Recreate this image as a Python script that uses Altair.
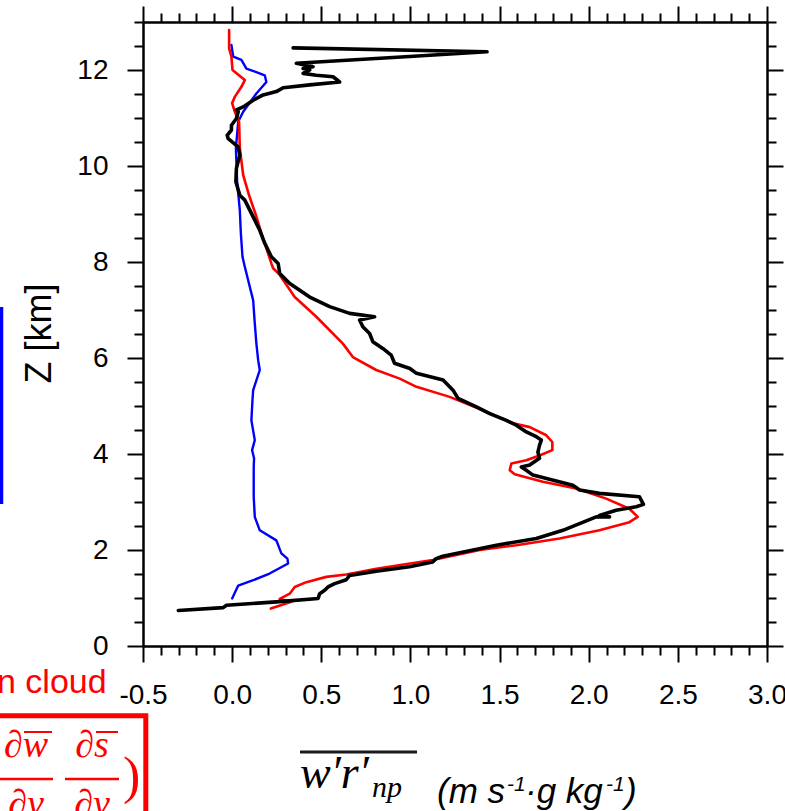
import altair as alt
import pandas as pd

# ---------------- data ----------------
blue_x = [0.00, 0.034, 0.118, 0.21, 0.314, 0.31, 0.276, 0.248, 0.155, 0.127, 0.121, 0.121, 0.123,
          0.112, 0.127, 0.108, 0.114, 0.118, 0.155, 0.146, 0.136, 0.127, 0.118, 0.071, 0.058, 0.049,
          0.043, 0.028, 0.021, 0.034, 0.062, 0.136, 0.192, 0.183, 0.08, 0.052, 0.006, -0.004]
blue_z = [0.99, 1.26, 1.37, 1.51, 1.72, 1.82, 1.93, 2.20, 2.41, 2.69, 3.11, 3.73, 3.91,
          4.08, 4.29, 4.70, 5.12, 5.33, 5.75, 5.95, 6.30, 6.72, 7.20, 7.90, 8.11, 8.59,
          9.08, 9.67, 10.37, 10.92, 11.13, 11.51, 11.75, 11.89, 12.03, 12.21, 12.28, 12.52]

red_x = [0.217, 0.332, 0.267, 0.323, 0.351, 0.416, 0.528, 0.64, 0.808, 1.125, 1.389, 1.594, 1.836,
         2.06, 2.228, 2.275, 2.228, 2.098, 1.93, 1.743, 1.585, 1.557, 1.566, 1.65, 1.724, 1.796,
         1.796, 1.762, 1.67, 1.575, 1.407, 1.22, 1.034, 0.94, 0.808, 0.677, 0.621, 0.472, 0.351,
         0.267, 0.23, 0.22, 0.164, 0.133, 0.095, 0.062, 0.043, 0.039, 0.015, 0.0, 0.015, 0.052,
         0.071, 0.002, -0.004, -0.017, -0.017]
red_z = [0.78, 0.92, 0.98, 1.09, 1.23, 1.33, 1.44, 1.49, 1.61, 1.79, 2.00, 2.10, 2.24,
         2.41, 2.58, 2.69, 2.86, 3.07, 3.28, 3.42, 3.58, 3.66, 3.80, 3.87, 3.97, 4.08,
         4.25, 4.39, 4.56, 4.64, 4.91, 5.19, 5.40, 5.57, 5.75, 6.02, 6.30, 6.86, 7.27,
         7.73, 7.87, 7.97, 8.60, 8.98, 9.39, 9.81, 10.37, 10.92, 11.13, 11.31, 11.44, 11.65,
         11.79, 12.00, 12.28, 12.45, 12.83]

black_x = [-0.302, -0.05, -0.032, 0.248, 0.482, 0.491, 0.519, 0.538, 0.575, 0.64, 0.659, 0.808,
           0.995, 1.125, 1.144, 1.181, 1.482, 1.706, 1.855, 2.042, 2.117, 2.06, 2.154, 2.266,
           2.307, 2.284, 2.06, 1.949, 1.911, 1.687, 1.65, 1.622, 1.669, 1.724, 1.715, 1.724,
           1.734, 1.706, 1.65, 1.594, 1.538, 1.445, 1.37, 1.267, 1.239, 1.183, 1.034, 0.997,
           0.911, 0.892, 0.845, 0.789, 0.771, 0.733, 0.715, 0.799, 0.659, 0.547, 0.435, 0.323,
           0.267, 0.258, 0.22, 0.183, 0.155, 0.118, 0.071, 0.043, 0.021, 0.024, 0.043, 0.034,
           -0.022, -0.028, -0.004, -0.004, 0.024, 0.034, 0.024, 0.062, 0.118, 0.174, 0.248,
           0.286, 0.435, 0.603, 0.566, 0.472, 0.398, 0.435, 0.398, 0.454, 0.36, 0.901, 0.995,
           1.43, 0.342]
black_z = [0.74, 0.80, 0.85, 0.92, 0.99, 1.09, 1.16, 1.23, 1.30, 1.38, 1.47, 1.56,
           1.65, 1.75, 1.82, 1.87, 2.10, 2.24, 2.41, 2.69, 2.69, 2.72, 2.83, 2.90,
           2.95, 3.11, 3.18, 3.25, 3.35, 3.56, 3.66, 3.73, 3.77, 3.91, 4.04, 4.18,
           4.29, 4.36, 4.46, 4.60, 4.70, 4.84, 4.98, 5.16, 5.33, 5.54, 5.68, 5.78,
           5.89, 6.06, 6.20, 6.34, 6.51, 6.65, 6.79, 6.86, 6.93, 7.07, 7.27, 7.55,
           7.76, 7.97, 8.11, 8.39, 8.66, 8.94, 9.29, 9.39, 9.67, 9.95, 10.23, 10.40,
           10.57, 10.64, 10.75, 10.85, 10.99, 11.13, 11.17, 11.23, 11.37, 11.48, 11.55,
           11.63, 11.69, 11.75, 11.86, 11.89, 11.93, 12.00, 12.03, 12.07, 12.14, 12.26, 12.28,
           12.38, 12.46]

x_ticks = [-0.5, -0.4, -0.3, -0.2, -0.1, 0.0, 0.1, 0.2, 0.3, 0.4, 0.5, 0.6, 0.7, 0.8, 0.9,
           1.0, 1.1, 1.2, 1.3, 1.4, 1.5, 1.6, 1.7, 1.8, 1.9, 2.0, 2.1, 2.2, 2.3, 2.4, 2.5,
           2.6, 2.7, 2.8, 2.9, 3.0]
y_ticks = [0, 0.5, 1, 1.5, 2, 2.5, 3, 3.5, 4, 4.5, 5, 5.5, 6, 6.5, 7, 7.5, 8, 8.5, 9, 9.5,
           10, 10.5, 11, 11.5, 12, 12.5, 13]


def frame(xs, zs):
    return pd.DataFrame({"x": xs, "z": zs, "order": list(range(len(xs)))})


df_blue = frame(blue_x, blue_z)
df_red = frame(red_x, red_z)
df_black = frame(black_x, black_z)

xscale = alt.Scale(domain=[-0.5, 3.0], nice=False, zero=False)
yscale = alt.Scale(domain=[0, 13], nice=False, zero=False)

x_major = "abs(datum.value*2 - round(datum.value*2)) < 1e-6"
y_major = "abs(datum.value/2 - round(datum.value/2)) < 1e-6"

common = dict(tickColor="black", tickWidth=2, domainColor="black", domainWidth=2.5,
              grid=False, labelOverlap=False, labelFlush=False, labelBound=False,
              labelFont="Liberation Sans", labelFontSize=28, labelColor="black")

ax_bottom = alt.Axis(orient="bottom", values=x_ticks, title=None,
                     tickSize={"condition": {"test": x_major, "value": 16}, "value": 9},
                     labelExpr=f"{x_major} ? ((datum.value < 0 ? '-' : '') + format(abs(datum.value), '.1f')) : ''",
                     labelPadding=19, **common)
ax_left = alt.Axis(orient="left", values=y_ticks, title="Z [km]",
                   tickSize={"condition": {"test": y_major, "value": 16}, "value": 9},
                   labelExpr=f"{y_major} ? format(datum.value, 'd') : ''",
                   labelPadding=19, titleFont="Liberation Sans", titleFontSize=36,
                   titleFontWeight="normal", titleColor="black", titleAngle=270,
                   titleBaseline="alphabetic", titleAlign="center", titleX=-93, titleY=311,
                   **common)
ax_top = alt.Axis(orient="top", values=x_ticks, title=None, labels=False,
                  tickSize={"condition": {"test": x_major, "value": 16}, "value": 9},
                  tickColor="black", tickWidth=2, domainColor="black", domainWidth=2.5, grid=False)
ax_right = alt.Axis(orient="right", values=y_ticks, title=None, labels=False,
                    tickSize={"condition": {"test": y_major, "value": 16}, "value": 9},
                    tickColor="black", tickWidth=2, domainColor="black", domainWidth=2.5, grid=False)


def curve(df, color, width, xaxis=None, yaxis=None):
    return alt.Chart(df).mark_line(color=color, strokeWidth=width, strokeJoin="round",
                                   strokeCap="round").encode(
        x=alt.X("x:Q", scale=xscale, axis=xaxis),
        y=alt.Y("z:Q", scale=yscale, axis=yaxis),
        order="order:Q",
    )


blue = curve(df_blue, "#0000FF", 2.4, ax_bottom, ax_left)
red = curve(df_red, "#FF0000", 2.6)
black = curve(df_black, "#000000", 3.6)
frame_axes = alt.Chart(df_black).mark_point(opacity=0).encode(
    x=alt.X("x:Q", scale=xscale, axis=ax_top),
    y=alt.Y("z:Q", scale=yscale, axis=ax_right),
)

one = alt.Data(values=[{}])


def txt(s, x, y, size, color="black", font="Liberation Sans", style="normal", align="left"):
    return alt.Chart(one).mark_text(text=s, font=font, fontSize=size, fontStyle=style,
                                    color=color, align=align, baseline="alphabetic").encode(
        x=alt.value(x), y=alt.value(y))


def rule(x1, x2, y1, y2, color, width):
    return alt.Chart(one).mark_rule(color=color, strokeWidth=width).encode(
        x=alt.value(x1), x2=alt.value(x2), y=alt.value(y1), y2=alt.value(y2))


serif = "Liberation Serif"
annotations = [
    # fragment of a neighbouring panel (left side)
    txt("n cloud", -146, 671, 34, color="#FF0000"),
    rule(-141.5, -141.5, 285, 482, "#0000FF", 3.5),
    alt.Chart(one).mark_rect(fill="white", stroke="#FF0000", strokeWidth=5).encode(
        x=alt.value(-170), x2=alt.value(2.8), y=alt.value(693.8), y2=alt.value(840)),
    txt("∂w", -117, 735, 38, color="#FF0000", font=serif, style="italic", align="center"),
    rule(-119, -91, 710, 710, "#FF0000", 2),
    txt("∂s", -51, 735, 38, color="#FF0000", font=serif, style="italic", align="center"),
    rule(-47, -25, 710, 710, "#FF0000", 2),
    rule(-150, -90, 757, 757, "#FF0000", 2.5),
    rule(-78, -24, 757, 757, "#FF0000", 2.5),
    txt("∂y", -117, 794, 38, color="#FF0000", font=serif, style="italic", align="center"),
    txt("∂y", -51, 794, 38, color="#FF0000", font=serif, style="italic", align="center"),
    txt(")", -20, 771, 52, color="#FF0000", font=serif),
    # x axis title
    rule(157, 274, 730, 730, "#1a1a1a", 3),
    txt("w′r′", 157, 766, 46, font=serif, style="italic"),
    txt("np", 229, 775, 30, font=serif, style="italic"),
    txt("(m s", 294, 781, 35, style="italic"),
    txt("-1", 364, 769, 21, style="italic"),
    txt("·g kg", 382, 781, 35, style="italic"),
    txt("-1", 463, 769, 21, style="italic"),
    txt(")", 482, 781, 35, style="italic"),
]

chart = alt.layer(blue, red, black, frame_axes, *annotations).resolve_axis(
    x="independent", y="independent"
).properties(
    width=624, height=624,
    padding={"left": 143, "top": 22, "right": 18, "bottom": 165},
    autosize=alt.AutoSizeParams(type="none"),
    background="white",
).configure_view(stroke=None)

chart.save("out.html", embed_options={"renderer": "svg", "actions": False})
